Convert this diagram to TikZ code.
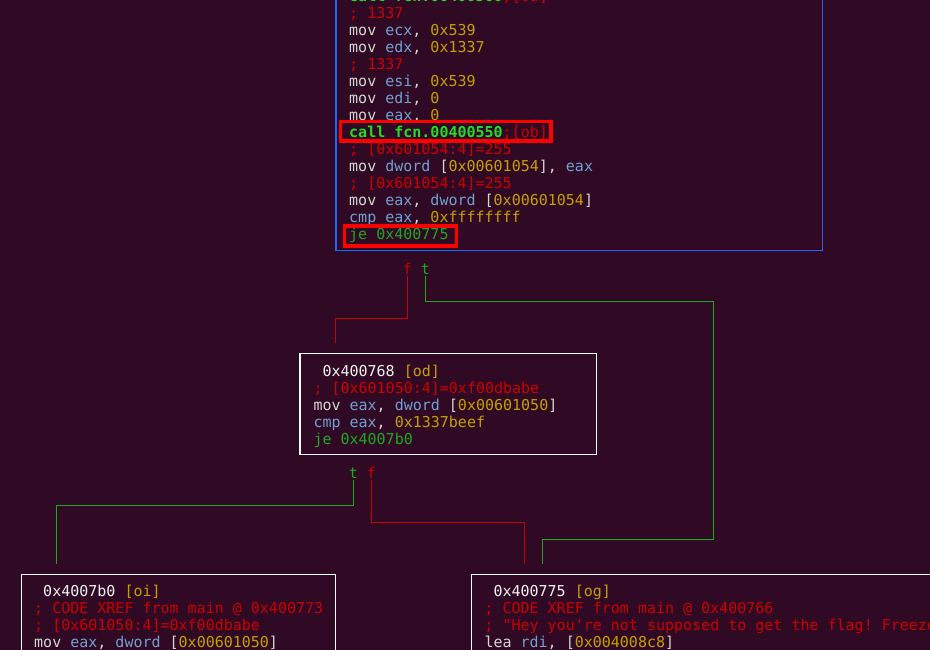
\documentclass[tikz,border=0pt]{standalone}
\usepackage{fontspec}
\setmonofont{DejaVu Sans Mono}
\usetikzlibrary{calc}
\definecolor{bgcol}{HTML}{300A24}
\definecolor{txtcol}{HTML}{D3D7CF}
\definecolor{adrcol}{HTML}{F2F2F0}
\definecolor{regcol}{HTML}{729FCF}
\definecolor{numcol}{HTML}{C4A000}
\definecolor{cmtcol}{HTML}{CC0000}
\definecolor{jmpcol}{HTML}{1EA81E}
\definecolor{callcol}{HTML}{22DD22}
\definecolor{boxblue}{HTML}{1F66FF}
\definecolor{hlred}{HTML}{FF0000}
\newcommand{\Reg}[1]{\textcolor{regcol}{#1}}
\newcommand{\Num}[1]{\textcolor{numcol}{#1}}
\newcommand{\Cmt}[1]{\textcolor{cmtcol}{#1}}
\newcommand{\Jmp}[1]{\textcolor{jmpcol}{#1}}
\newcommand{\Call}[1]{\textbf{\textcolor{callcol}{#1}}}
\newcommand{\Adr}[2]{\hphantom{0}\textcolor{adrcol}{#1} \Num{[#2]}}

\begin{document}
\begin{tikzpicture}[x=1pt,y=-1pt,
  block/.style={rectangle, draw=#1, line width=1.2pt, anchor=north west, inner sep=0},
  block/.default=white,
  code/.style={anchor=north west, inner sep=0, align=left, text=txtcol, font=\ttfamily\fontsize{15}{17}\selectfont},
  lbl/.style={anchor=south, inner sep=0, outer sep=1.8pt, font=\ttfamily\fontsize{15}{17}\selectfont},
  fedge/.style={draw=cmtcol, line width=1pt},
  tedge/.style={draw=jmpcol, line width=1pt},
  hl/.style={draw=hlred, line width=3.6pt}]
\useasboundingbox (0,0) rectangle (930,650);
\clip (0,0) rectangle (930,650);
\fill[bgcol] (0,0) rectangle (930,650);
% blocks
\node[block=boxblue, minimum width=486.4pt, minimum height=270.3pt] (main) at (335.3,-20) {};
\node[block, minimum width=296.7pt, minimum height=101.3pt] (od) at (299.3,352.7) {};
\node[block, minimum width=314.3pt, minimum height=150pt] (oi) at (20.7,573.7) {};
\node[block, minimum width=600pt, minimum height=150pt] (og) at (470.7,573.7) {};
% code
\node[code] (mainTxt) at (349,-10.4) {\strut\Call{call fcn.00400560}\Cmt{;[oa]}\\
\Cmt{; 1337}\\
mov \Reg{ecx}, \Num{0x539}\\
mov \Reg{edx}, \Num{0x1337}\\
\Cmt{; 1337}\\
mov \Reg{esi}, \Num{0x539}\\
mov \Reg{edi}, \Num{0}\\
mov \Reg{eax}, \Num{0}\\
\Call{call fcn.00400550}\Cmt{;[ob]}\\
\Cmt{; [0x601054:4]=255}\\
mov \Reg{dword} [\Num{0x00601054}], \Reg{eax}\\
\Cmt{; [0x601054:4]=255}\\
mov \Reg{eax}, \Reg{dword} [\Num{0x00601054}]\\
\Reg{cmp} \Reg{eax}, \Num{0xffffffff}\\
\Jmp{je 0x400775}};
\draw[hl] (340.3,121.7) rectangle (551,141);
\draw[hl] (344.3,226) rectangle (456.3,246);
\node[code] (odTxt) at (313.3,364.1) {\strut\Adr{0x400768}{od}\\
\Cmt{; [0x601050:4]=0xf00dbabe}\\
mov \Reg{eax}, \Reg{dword} [\Num{0x00601050}]\\
\Reg{cmp} \Reg{eax}, \Num{0x1337beef}\\
\Jmp{je 0x4007b0}};
\node[code] (oiTxt) at (34,584.3) {\strut\Adr{0x4007b0}{oi}\\
\Cmt{; CODE XREF from main @ 0x400773}\\
\Cmt{; [0x601050:4]=0xf00dbabe}\\
mov \Reg{eax}, \Reg{dword} [\Num{0x00601050}]};
\node[code] (ogTxt) at (484.3,584.3) {\strut\Adr{0x400775}{og}\\
\Cmt{; CODE XREF from main @ 0x400766}\\
\Cmt{; "Hey you're not supposed to get the flag! Freeze}\\
lea \Reg{rdi}, [\Num{0x004008c8}]};
% edges
\node[lbl, text=cmtcol] (mainF) at (407.3,276) {f};
\node[lbl, text=jmpcol] (mainT) at (425.3,276) {t};
\node[lbl, text=jmpcol] (odT) at (353.3,480) {t};
\node[lbl, text=cmtcol] (odF) at (371.3,480) {f};
\coordinate (ogTurn) at (713.3,539.3);
\draw[fedge] (mainF.south) -- ++(0,42.3) -| ($(od.north west)+(36,-9.4)$);
\draw[tedge] (mainT.south) -- ++(0,25.3) -| (ogTurn) -| ($(og.north west)+(71.6,-9.4)$);
\draw[tedge] (odT.south) -- ++(0,25.7) -| ($(oi.north west)+(36,-9.4)$);
\draw[fedge] (odF.south) -- ++(0,42.3) -| ($(og.north west)+(53.6,-9.4)$);
\end{tikzpicture}
\end{document}
